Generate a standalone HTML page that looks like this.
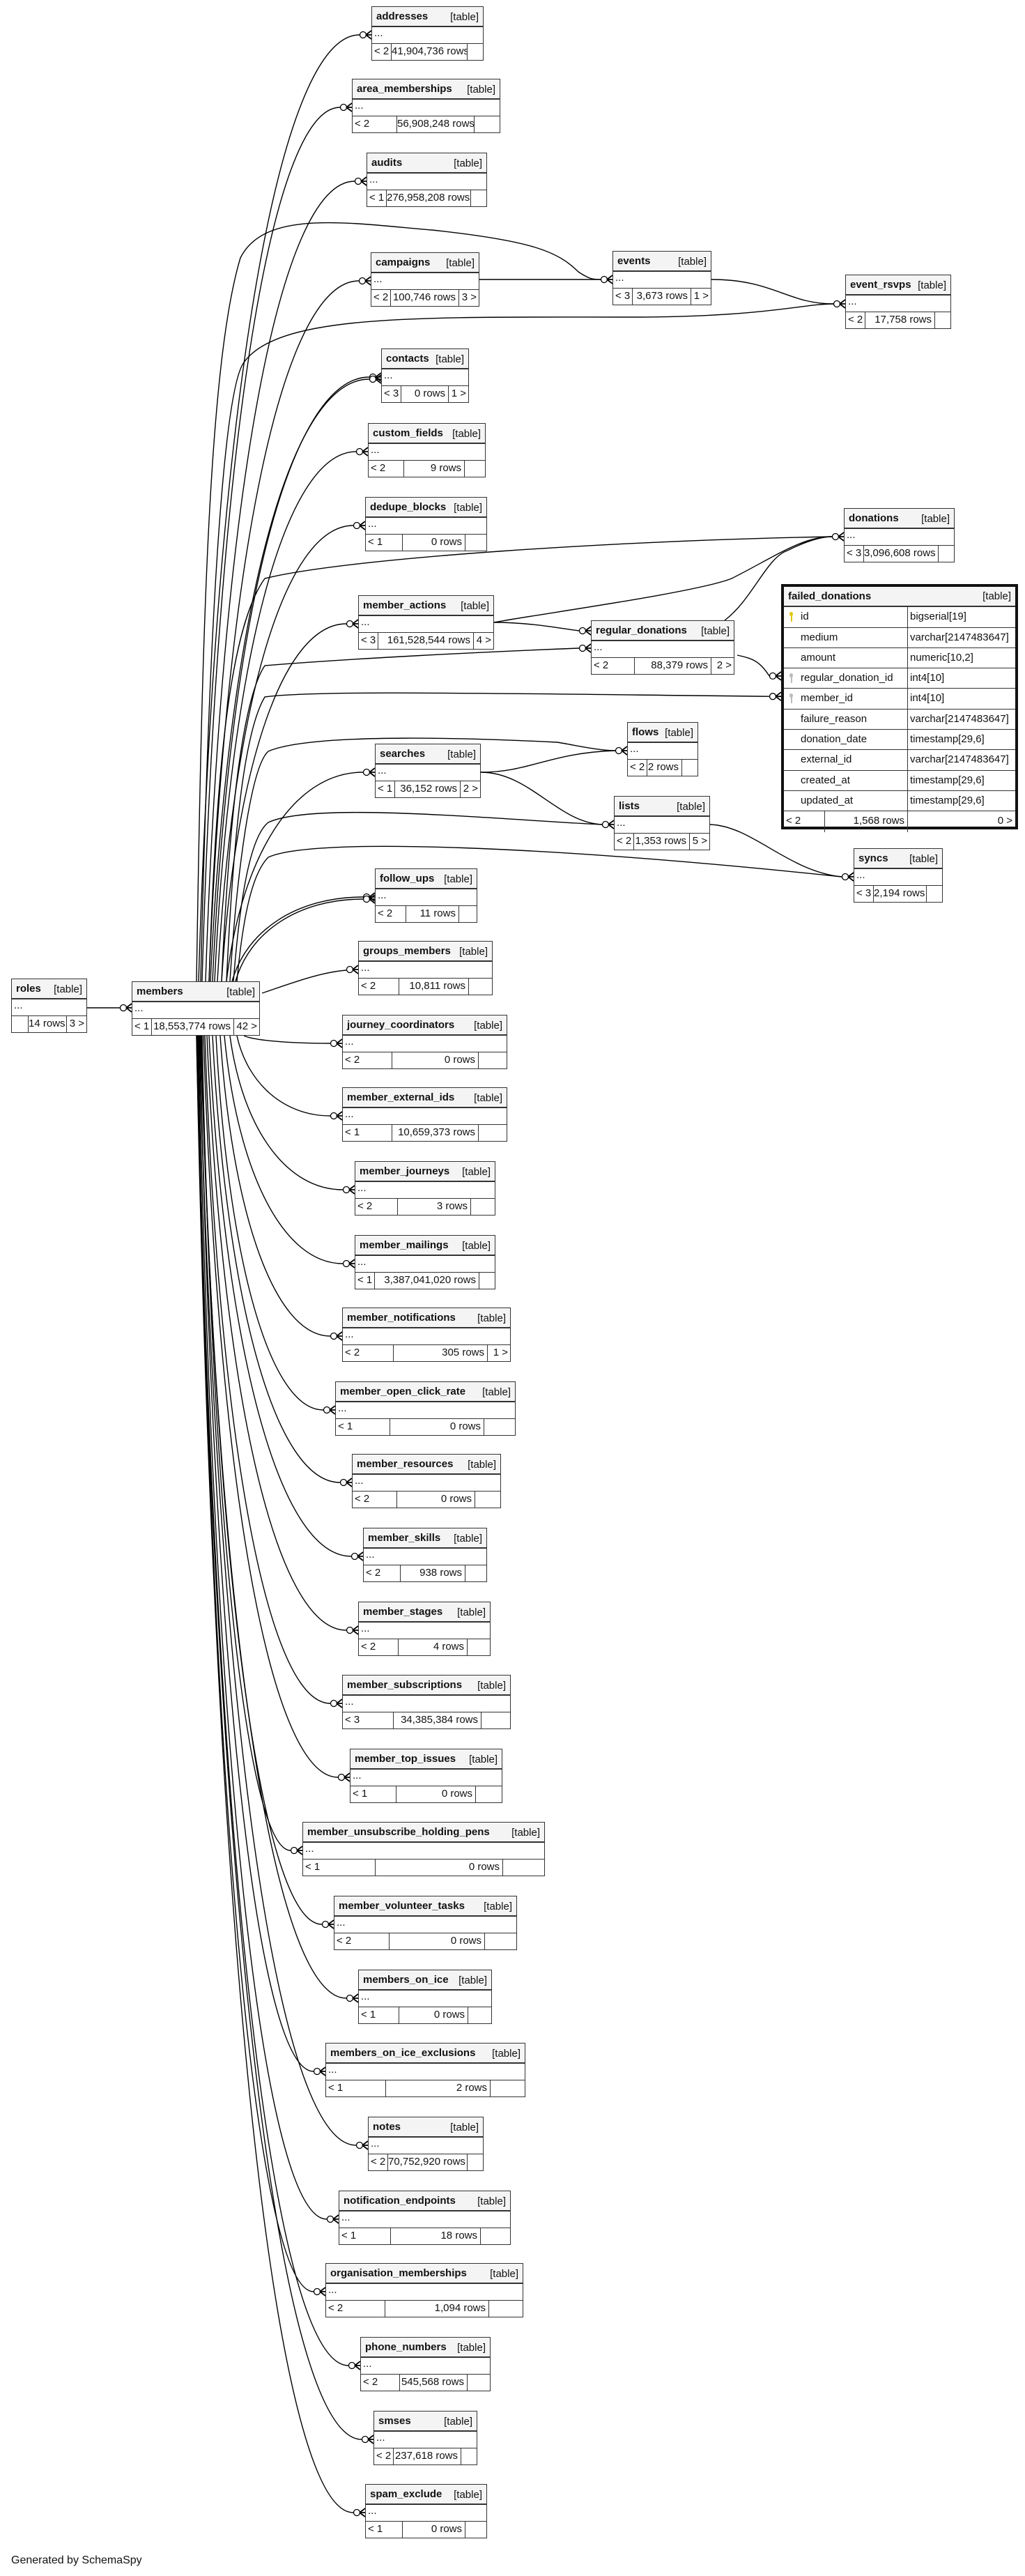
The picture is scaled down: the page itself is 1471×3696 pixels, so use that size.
<!DOCTYPE html>
<html><head><meta charset="utf-8">
<style>
body{margin:0;background:#fff;width:1471px;height:3696px;position:relative;overflow:hidden;font-family:"Liberation Sans",sans-serif;color:#111}
.t{position:absolute;border:1.5px solid #333;background:#fff;box-sizing:border-box;font-size:15px}
.h{height:29px;background:#f4f4f4;border-bottom:2px solid #333;position:relative;box-sizing:border-box}
.h b{position:absolute;left:6px;top:5px;font-weight:bold}
.h span{position:absolute;right:6px;top:6px}
.e{height:24px;border-bottom:1.5px solid #333;box-sizing:border-box;padding-left:3px;line-height:18px}
.f{display:flex;height:23px;line-height:22px}
.f div{box-sizing:border-box;white-space:nowrap;overflow:hidden}
.f .l{border-right:1.5px solid #333;padding-left:3px}
.f .m{flex:1;text-align:right;padding-right:4px;border-right:1.5px solid #333}
.f .r{text-align:right;padding-right:3px}
svg{position:absolute;left:0;top:0}
.fd{position:absolute;left:1121px;top:838px;width:340px;height:352px;border:4px solid #111;box-sizing:border-box;font-size:15px;background:#fff}
.fd .row{display:flex;height:29.3px;line-height:28px;border-bottom:1.5px solid #333;box-sizing:border-box}
.fd .row div:first-child{width:178px;border-right:1.5px solid #333;padding-left:24px;box-sizing:border-box;position:relative}
.fd .row div:last-child{flex:1;padding-left:3px}
.key{position:absolute;left:8px;top:7px;width:5px;height:6px;border-radius:50%;}
.key:after{content:"";position:absolute;left:1.5px;top:5px;width:2px;height:9px;background:inherit}
.gen{position:absolute;left:16px;top:3665px;font-size:16px}
</style></head><body>
<svg id="s" width="1471" height="3696"></svg>
<div id="c"></div>
<div class="fd">
<div class="row" style="background:#f4f4f4;border-bottom:2px solid #333"><div style="border:none;padding-left:6px;font-weight:bold;width:auto">failed_donations</div><div style="text-align:right;padding-right:6px">[table]</div></div>
<div class="row"><div><i class="key" style="background:#e0c800"></i>id</div><div>bigserial[19]</div></div>
<div class="row"><div>medium</div><div>varchar[2147483647]</div></div>
<div class="row"><div>amount</div><div>numeric[10,2]</div></div>
<div class="row"><div><i class="key" style="background:#bbb"></i>regular_donation_id</div><div>int4[10]</div></div>
<div class="row"><div><i class="key" style="background:#bbb"></i>member_id</div><div>int4[10]</div></div>
<div class="row"><div>failure_reason</div><div>varchar[2147483647]</div></div>
<div class="row"><div>donation_date</div><div>timestamp[29,6]</div></div>
<div class="row"><div>external_id</div><div>varchar[2147483647]</div></div>
<div class="row"><div>created_at</div><div>timestamp[29,6]</div></div>
<div class="row"><div>updated_at</div><div>timestamp[29,6]</div></div>
<div class="row" style="border:none"><div style="padding-left:3px;display:flex"><span style="width:55px;border-right:1.5px solid #333">&lt; 2</span><span style="flex:1;text-align:right;padding-right:4px">1,568 rows</span></div><div style="text-align:right;padding-right:4px">0 &gt;</div></div>
</div>
<div class="gen">Generated by SchemaSpy</div>
<script>
var T=[
["addresses",533,694,9,"< 2","41,904,736 rows","",1],
["area_memberships",505,718,113,"< 2","56,908,248 rows","",0],
["audits",526,699,219,"< 1","276,958,208 rows","",1],
["campaigns",532,688,362,"< 2","100,746 rows","3 >",1],
["events",879,1021,360,"< 3","3,673 rows","1 >",1],
["event_rsvps",1213,1365,394,"< 2","17,758 rows","",1],
["contacts",547,673,500,"< 3","0 rows","1 >",1],
["custom_fields",528,697,607,"< 2","9 rows","",0],
["dedupe_blocks",524,699,713,"< 1","0 rows","",0],
["donations",1211,1370,729,"< 3","3,096,608 rows","",1],
["member_actions",514,709,854,"< 3","161,528,544 rows","4 >",1],
["regular_donations",848,1054,890,"< 2","88,379 rows","2 >",0],
["flows",900,1002,1036,"< 2","2 rows","",1],
["searches",538,690,1067,"< 1","36,152 rows","2 >",1],
["lists",881,1019,1142,"< 2","1,353 rows","5 >",1],
["syncs",1225,1353,1217,"< 3","2,194 rows","",1],
["follow_ups",538,685,1246,"< 2","11 rows","",0],
["groups_members",514,707,1350,"< 2","10,811 rows","",0],
["roles",16,125,1404,"","14 rows","3 >",1],
["members",189,373,1408,"< 1","18,553,774 rows","42 >",1],
["journey_coordinators",491,728,1456,"< 2","0 rows","",0],
["member_external_ids",491,728,1560,"< 1","10,659,373 rows","",0],
["member_journeys",509,711,1666,"< 2","3 rows","",0],
["member_mailings",509,711,1772,"< 1","3,387,041,020 rows","",1],
["member_notifications",491,733,1876,"< 2","305 rows","1 >",0],
["member_open_click_rate",481,740,1982,"< 1","0 rows","",0],
["member_resources",505,719,2086,"< 2","0 rows","",0],
["member_skills",521,699,2192,"< 2","938 rows","",0],
["member_stages",514,704,2298,"< 2","4 rows","",0],
["member_subscriptions",491,733,2403,"< 3","34,385,384 rows","",0],
["member_top_issues",502,721,2509,"< 1","0 rows","",0],
["member_unsubscribe_holding_pens",434,782,2614,"< 1","0 rows","",0],
["member_volunteer_tasks",479,742,2720,"< 2","0 rows","",0],
["members_on_ice",514,706,2826,"< 1","0 rows","",0],
["members_on_ice_exclusions",467,754,2931,"< 1","2 rows","",0],
["notes",528,694,3037,"< 2","70,752,920 rows","",1],
["notification_endpoints",486,733,3143,"< 1","18 rows","",0],
["organisation_memberships",467,751,3247,"< 2","1,094 rows","",0],
["phone_numbers",517,704,3353,"< 2","545,568 rows","",0],
["smses",536,685,3459,"< 2","237,618 rows","",1],
["spam_exclude",524,699,3564,"< 1","0 rows","",0]];
var h="",P={};
T.forEach(function(t){var w=t[2]-t[1];P[t[0]]=t;
var L=t[7]?(t[4]?28:24):Math.round(w*0.3),R=t[7]?(t[6]?(t[6].length>3?36:28):22):(t[6]?32:Math.round(w*0.17));
h+='<div class="t" style="left:'+t[1]+'px;top:'+t[3]+'px;width:'+w+'px;height:78px"><div class="h"><b>'+t[0]+'</b><span>[table]</span></div><div class="e">...</div><div class="f"><div class="l" style="width:'+L+'px">'+t[4].replace("<","&lt;")+'</div><div class="m">'+t[5]+'</div><div class="r" style="width:'+R+'px">'+t[6].replace(">","&gt;")+'</div></div></div>';});
document.getElementById("c").innerHTML=h;
var s="";
function mk(x,y){return '<circle cx="'+(x-12)+'" cy="'+y+'" r="4.5" fill="#fff" stroke="#000" stroke-width="1.3"/><path d="M'+(x-8)+' '+y+'L'+x+' '+(y-6)+'M'+(x-8)+' '+y+'L'+x+' '+y+'M'+(x-8)+' '+y+'L'+x+' '+(y+6)+'" stroke="#000" stroke-width="1.8" fill="none"/>';}
function p(d){s+='<path d="'+d+'" fill="none" stroke="#000" stroke-width="1.4"/>';}
function ey(n){return P[n][3]+41;}
function fromM(n,sx,dy){var tx=P[n][1],ty=ey(n)+(dy||0),top=ty<1408,sy=top?1408:1486;
p("M"+sx+" "+sy+" C"+(sx+(tx-sx)*0.1)+" "+(sy+(ty-sy)*0.6)+" "+(tx-(tx-sx)*0.55)+" "+ty+" "+(tx-17)+" "+ty);s+=mk(tx,ty);}
var up=["addresses","area_memberships","audits","campaigns","contacts","custom_fields","dedupe_blocks","member_actions","searches","follow_ups"];
var ux=[285,290,295,300,305,308,312,318,325,333];
up.forEach(function(n,i){fromM(n,ux[i]);});
fromM("contacts",302,3);fromM("follow_ups",338,3);
var lo=["journey_coordinators","member_external_ids","member_journeys","member_mailings","member_notifications","member_open_click_rate","member_resources","member_skills","member_stages","member_subscriptions","member_top_issues","member_unsubscribe_holding_pens","member_volunteer_tasks","members_on_ice","members_on_ice_exclusions","notes","notification_endpoints","organisation_memberships","phone_numbers","smses","spam_exclude"];
lo.forEach(function(n,i){fromM(n,[350,340,330,322,316,310,305,300,297,294,292,290,289,288,287,286,285,284,283,282,282][i]);});
// groups_members
p("M376 1425 C420 1410 460 1395 497 1392");s+=mk(514,1391);
// roles->members
p("M125 1446 L172 1446");s+=mk(189,1446);
// campaigns->events
p("M688 401 L862 401");s+=mk(879,401);
// events->event_rsvps
p("M1021 401 C1110 401 1130 436 1196 436");s+=mk(1213,436);
// members -> events long
p("M282 1408 C290 900 300 520 345 370 C380 300 500 320 620 330 C760 345 800 360 830 390 C845 400 850 401 862 401");
// members -> event_rsvps
p("M288 1408 C300 900 320 560 350 520 C400 450 600 455 900 455 C1100 455 1150 436 1196 436");
// donations
s+=mk(1211,770);
p("M300 1408 C310 1100 330 900 380 830 C500 800 900 775 1194 770");
p("M709 893 C780 880 1000 850 1050 830 C1110 800 1150 770 1194 770");
p("M1040 890 C1080 860 1100 800 1130 790 C1160 775 1180 770 1194 770");
// member_actions -> regular_donations
p("M709 893 C760 893 800 901 831 905");s+=mk(848,905);
// members -> regular_donations
p("M318 1408 C330 1150 350 1000 380 955 C500 945 700 935 831 930");s+=mk(848,930);
// regular -> failed
var ry=838+29+29.3*3+15,my=838+29+29.3*4+15;
p("M1058 940 C1080 945 1090 948 1104 "+ry);s+=mk(1121,ry);
p("M325 1408 C335 1200 350 1050 380 1000 C450 990 700 995 1104 "+my);s+=mk(1121,my);
// searches -> flows/lists
p("M690 1108 C760 1108 790 1080 883 1077");s+=mk(900,1077);
p("M690 1108 C760 1108 800 1180 864 1183");s+=mk(881,1183);
// members -> flows
p("M330 1408 C340 1250 360 1100 385 1078 C450 1050 700 1060 800 1065 C830 1070 860 1077 883 1077");
// members -> lists
p("M335 1408 C345 1280 360 1200 385 1180 C450 1150 700 1175 864 1183");
// lists -> syncs
p("M1019 1183 C1080 1185 1130 1250 1208 1258");s+=mk(1225,1258);
// members -> syncs
p("M340 1408 C350 1300 365 1250 385 1230 C450 1200 800 1215 1208 1258");
document.getElementById("s").innerHTML=s;
</script>
</body></html>
